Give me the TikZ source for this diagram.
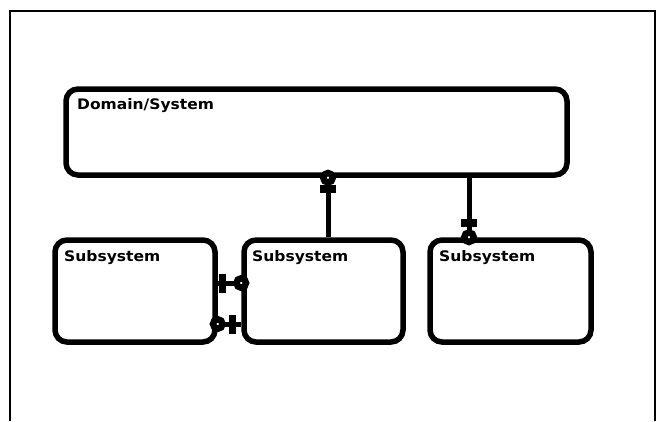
\documentclass[tikz,border=0pt]{standalone}
\usepackage{fontspec}
\newfontfamily\labfont[FakeStretch=1.07]{DejaVu Sans}
\usetikzlibrary{calc}
\begin{document}
\begin{tikzpicture}[x=1pt,y=-1pt,
  frameline/.style={line width=2pt},
  unitbox/.style={draw, line width=5.5pt, rounded corners=12pt, inner sep=0pt},
  boxlabel/.style={anchor=base west, inner sep=0pt, font=\labfont\bfseries\fontsize{14.5}{16}\selectfont},
  link/.style={line width=5pt},
  ringmark/.style={circle, draw, line width=6.5pt, fill=white, minimum size=9.5pt, inner sep=0pt},
  hbar/.style={rectangle, fill=black, minimum width=16pt, minimum height=8pt, inner sep=0pt},
  vbar/.style={rectangle, fill=black, minimum width=7pt, minimum height=19pt, inner sep=0pt}]
\useasboundingbox (0,0) rectangle (662,421);
% outer frame, open at the bottom
\draw[frameline] (10,421) -- (10,11) -- (655,11) -- (655,421);

% domain and subsystem boxes
\node[unitbox, minimum width=501pt, minimum height=86pt] (dom) at (316.5,132) {};
\node[unitbox, minimum width=160pt, minimum height=102pt] (subA) at (135,291) {};
\node[unitbox, minimum width=159pt, minimum height=102pt] (subB) at (323.5,291) {};
\node[unitbox, minimum width=161pt, minimum height=102pt] (subC) at (510.5,291) {};

\node[boxlabel] (domtxt) at (77,109) {Domain/System};
\node[boxlabel] (subAtxt) at (64,261) {Subsystem};
\node[boxlabel] (subBtxt) at (252,261) {Subsystem};
\node[boxlabel] (subCtxt) at (439,261) {Subsystem};

% domain -> subsystem B
\coordinate (d1) at (dom.south -| 328,0);
\coordinate (b1) at (subB.north -| 328,0);
\draw[link] (d1) -- (b1);
\node[hbar] (bar1) at (328,189) {};
\node[ringmark] (ring1) at (d1) {};

% domain -> subsystem C
\coordinate (d2) at (dom.south -| 469,0);
\coordinate (c2) at (subC.north -| 469,0);
\draw[link] (d2) -- (c2);
\node[hbar] (bar2) at (469,223) {};
\node[ringmark] (ring2) at (c2) {};

% subsystem A <-> subsystem B, upper link
\coordinate (a3) at (subA.east |- 0,283);
\coordinate (b3) at (subB.west |- 0,283);
\draw[link] (a3) -- (b3);
\node[vbar] (bar3) at (222,283) {};
\node[ringmark] (ring3) at (b3) {};

% subsystem A <-> subsystem B, lower link
\coordinate (a4) at (subA.east |- 0,324);
\coordinate (b4) at (subB.west |- 0,324);
\draw[link] (a4) -- (b4);
\node[vbar] (bar4) at (232,324) {};
\node[ringmark] (ring4) at (a4) {};
\end{tikzpicture}
\end{document}
